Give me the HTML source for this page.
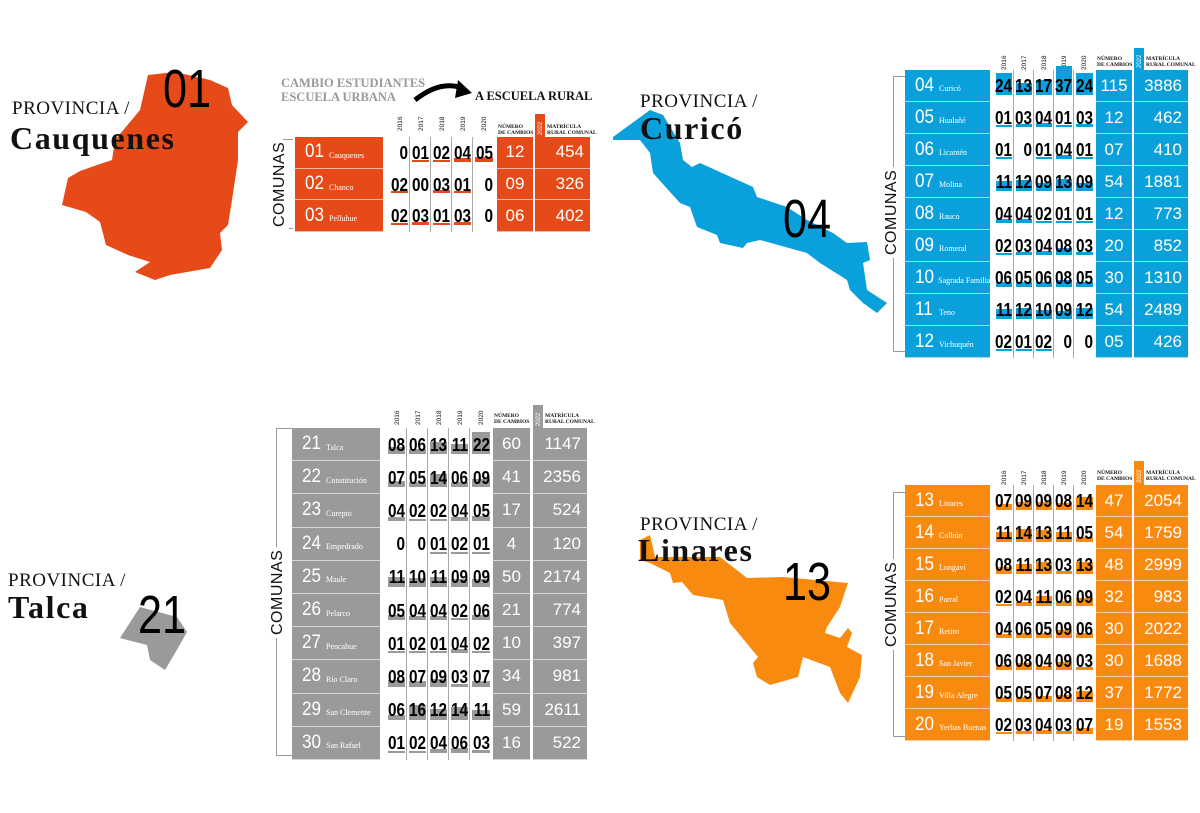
<!DOCTYPE html>
<html><head><meta charset="utf-8">
<style>
*{margin:0;padding:0;box-sizing:border-box}
body{width:1200px;height:813px;background:#fff;position:relative;overflow:hidden;font-family:"Liberation Sans",sans-serif}
.a{position:absolute}
.prov{font-family:"Liberation Serif",serif;font-size:19px;color:#111;letter-spacing:0.5px}
.pname{font-family:"Liberation Serif",serif;font-weight:bold;font-size:32px;color:#111;letter-spacing:1.6px}
.big{font-family:"Liberation Sans",sans-serif;font-size:54px;color:#000;transform:scaleX(0.8);transform-origin:left top;line-height:1}
.sec{position:absolute}
.r{display:flex;height:var(--h)}
.n{width:var(--nw);background:var(--c);color:#fff;border-bottom:1px solid rgba(255,255,255,.6);display:flex;align-items:center;padding-left:10px;margin-right:var(--g1);white-space:nowrap;overflow:hidden}
.n b{font-weight:normal;font-size:19px;transform:scaleX(.9);transform-origin:left;display:inline-block;width:22px}
.n i{font-style:normal;font-family:"Liberation Serif",serif;font-size:8px;margin-left:2px;margin-top:6px}
.y{width:var(--yw);position:relative;border-right:1px solid #aaa}
.y:nth-child(6){border-right:none;margin-right:var(--g2)}
.y s{position:absolute;right:1px;left:2px;bottom:7px;background:var(--c)}
.y span{position:absolute;right:1px;top:50%;transform:translateY(-50%) scaleX(.85);transform-origin:right;font-size:18px;font-weight:bold;color:#000;line-height:1}
.c{width:var(--cw);background:var(--c);color:#fff;border-bottom:1px solid rgba(255,255,255,.6);margin-right:var(--g3);display:flex;align-items:center;justify-content:center;font-size:17px}
.m{width:var(--mw);background:var(--c);color:#fff;border-bottom:1px solid rgba(255,255,255,.6);display:flex;align-items:center;justify-content:flex-end;padding-right:6px;font-size:17px}
.yr{position:absolute;font-size:6.5px;transform:rotate(-90deg);transform-origin:left top;color:#111}
.hd{position:absolute;font-family:"Liberation Serif",serif;font-weight:bold;font-size:5.5px;line-height:1.15;color:#111}
.tab{position:absolute;color:#fff;font-size:6px}
.tab span{position:absolute;left:1px;bottom:2px;transform:rotate(-90deg);transform-origin:left bottom;margin-left:8px}
.com{position:absolute;font-size:16px;color:#111;transform:rotate(-90deg);transform-origin:left top;letter-spacing:0.5px}
.br{position:absolute;border:1px solid #999;border-right:none}
</style></head><body>

<svg class="a" style="left:0;top:0" width="1200" height="813">
<polygon fill="#e64a19" points="148,75 175,72 210,80 228,88 232,105 248,122 238,132 238,160 232,200 228,225 220,233 222,250 210,268 170,275 155,280 135,272 150,262 128,255 106,245 100,222 86,212 62,205 68,178 80,171 100,164 112,160 115,140 140,110"/>
<polygon fill="#0aa0dc" points="613,137 650,110 663,115 680,143 683,160 692,167 700,163 753,187 757,197 787,207 807,220 833,233 847,243 867,242 870,260 863,263 867,290 887,303 877,313 863,303 850,290 847,280 820,263 807,253 760,240 747,243 743,248 720,243 717,235 697,227 690,207 680,203 653,173 650,153 640,140 613,140"/>
<polygon fill="#9a9a9a" points="120,638 140,607 177,617 187,632 178,648 165,670 150,660 147,645"/>
<polygon fill="#f98a10" points="640,540 650,535 655,557 720,557 747,578 783,577 848,583 840,607 827,627 825,633 840,638 848,628 852,633 847,647 862,655 860,677 848,703 840,693 830,667 803,657 798,677 770,685 757,677 753,663 758,657 730,623 723,600 693,595 682,582 673,583 670,573 650,563 640,560"/>
<path d="M415,100 Q440,80 462,88" stroke="#000" stroke-width="5" fill="none"/>
<polygon points="458,80 472,93 455,98" fill="#000"/>
</svg>

<!-- titles -->
<div class="a prov" style="left:12px;top:98px">PROVINCIA /</div>
<div class="a pname" style="left:10px;top:120px">Cauquenes</div>
<div class="a big" style="left:163px;top:62px">01</div>
<div class="a prov" style="left:640px;top:91px">PROVINCIA /</div>
<div class="a pname" style="left:640px;top:110px">Curicó</div>
<div class="a big" style="left:783px;top:192px">04</div>
<div class="a prov" style="left:8px;top:570px">PROVINCIA /</div>
<div class="a pname" style="left:8px;top:589px">Talca</div>
<div class="a big" style="left:138px;top:588px">21</div>
<div class="a prov" style="left:640px;top:514px">PROVINCIA /</div>
<div class="a pname" style="left:638px;top:532px">Linares</div>
<div class="a big" style="left:783px;top:555px">13</div>

<div class="a" style="left:281px;top:76px;font-family:'Liberation Serif',serif;font-weight:bold;font-size:12.5px;color:#999;line-height:14px">CAMBIO ESTUDIANTES<br>ESCUELA URBANA</div>
<div class="a" style="left:475px;top:89px;font-family:'Liberation Serif',serif;font-weight:bold;font-size:12.5px;color:#111">A ESCUELA RURAL</div>

<!-- Section A -->
<div class="yr" style="left:397px;top:131px">2016</div><div class="yr" style="left:418px;top:131px">2017</div><div class="yr" style="left:439px;top:131px">2018</div><div class="yr" style="left:460px;top:131px">2019</div><div class="yr" style="left:481px;top:131px">2020</div>
<div class="hd" style="left:498px;top:124px">NÚMERO<br>DE CAMBIOS</div>
<div class="tab" style="left:535px;top:114px;width:10px;height:23px;background:#e64a19"><span>2022</span></div>
<div class="hd" style="left:547px;top:124px">MATRÍCULA<br>RURAL COMUNAL</div>
<div class="br" style="left:283px;top:139px;width:10px;height:90px"></div>
<div class="com" style="left:271px;top:229px;background:#fff;padding:0 2px">COMUNAS</div>
<div class="sec" style="left:295px;top:137px;--c:#e64a19;--h:31.7px;--nw:88px;--g1:6px;--yw:21px;--g2:3px;--cw:36px;--g3:2px;--mw:55px">
<div class="r"><div class="n"><b>01</b><i>Cauquenes</i></div><div class="y"><span>0</span></div><div class="y"><s style="height:2px"></s><span>01</span></div><div class="y"><s style="height:2px"></s><span>02</span></div><div class="y"><s style="height:4px"></s><span>04</span></div><div class="y"><s style="height:5px"></s><span>05</span></div><div class="c">12</div><div class="m">454</div></div>
<div class="r"><div class="n"><b>02</b><i>Chanco</i></div><div class="y"><s style="height:2px"></s><span>02</span></div><div class="y"><span>00</span></div><div class="y"><s style="height:3px"></s><span>03</span></div><div class="y"><s style="height:2px"></s><span>01</span></div><div class="y"><span>0</span></div><div class="c">09</div><div class="m">326</div></div>
<div class="r"><div class="n"><b>03</b><i>Pelluhue</i></div><div class="y"><s style="height:2px"></s><span>02</span></div><div class="y"><s style="height:3px"></s><span>03</span></div><div class="y"><s style="height:2px"></s><span>01</span></div><div class="y"><s style="height:3px"></s><span>03</span></div><div class="y"><span>0</span></div><div class="c">06</div><div class="m">402</div></div>
</div>

<!-- Section B -->
<div class="yr" style="left:1001px;top:70px">2016</div><div class="yr" style="left:1021px;top:70px">2017</div><div class="yr" style="left:1041px;top:70px">2018</div><div class="yr" style="left:1061px;top:70px">2019</div><div class="yr" style="left:1081px;top:70px">2020</div>
<div class="hd" style="left:1097px;top:56px">NÚMERO<br>DE CAMBIOS</div>
<div class="tab" style="left:1134px;top:48px;width:10px;height:22px;background:#0aa0dc"><span>2022</span></div>
<div class="hd" style="left:1146px;top:56px">MATRÍCULA<br>RURAL COMUNAL</div>
<div class="br" style="left:893px;top:76px;width:12px;height:276px"></div>
<div class="com" style="left:883px;top:258px;background:#fff;padding:0 3px">COMUNAS</div>
<div class="sec" style="left:905px;top:70px;--c:#0aa0dc;--h:32px;--nw:85px;--g1:4px;--yw:20px;--g2:2px;--cw:36px;--g3:2px;--mw:54px">
<div class="r"><div class="n"><b>04</b><i>Curicó</i></div><div class="y"><s style="height:22px"></s><span>24</span></div><div class="y"><s style="height:12px"></s><span>13</span></div><div class="y"><s style="height:15px"></s><span>17</span></div><div class="y"><s style="height:29px"></s><span>37</span></div><div class="y"><s style="height:22px"></s><span>24</span></div><div class="c">115</div><div class="m">3886</div></div>
<div class="r"><div class="n"><b>05</b><i>Hualañé</i></div><div class="y"><s style="height:2px"></s><span>01</span></div><div class="y"><s style="height:3px"></s><span>03</span></div><div class="y"><s style="height:4px"></s><span>04</span></div><div class="y"><s style="height:2px"></s><span>01</span></div><div class="y"><s style="height:3px"></s><span>03</span></div><div class="c">12</div><div class="m">462</div></div>
<div class="r"><div class="n"><b>06</b><i>Licantén</i></div><div class="y"><s style="height:2px"></s><span>01</span></div><div class="y"><span>0</span></div><div class="y"><s style="height:2px"></s><span>01</span></div><div class="y"><s style="height:4px"></s><span>04</span></div><div class="y"><s style="height:2px"></s><span>01</span></div><div class="c">07</div><div class="m">410</div></div>
<div class="r"><div class="n"><b>07</b><i>Molina</i></div><div class="y"><s style="height:10px"></s><span>11</span></div><div class="y"><s style="height:11px"></s><span>12</span></div><div class="y"><s style="height:8px"></s><span>09</span></div><div class="y"><s style="height:12px"></s><span>13</span></div><div class="y"><s style="height:8px"></s><span>09</span></div><div class="c">54</div><div class="m">1881</div></div>
<div class="r"><div class="n"><b>08</b><i>Rauco</i></div><div class="y"><s style="height:4px"></s><span>04</span></div><div class="y"><s style="height:4px"></s><span>04</span></div><div class="y"><s style="height:2px"></s><span>02</span></div><div class="y"><s style="height:2px"></s><span>01</span></div><div class="y"><s style="height:2px"></s><span>01</span></div><div class="c">12</div><div class="m">773</div></div>
<div class="r"><div class="n"><b>09</b><i>Romeral</i></div><div class="y"><s style="height:2px"></s><span>02</span></div><div class="y"><s style="height:3px"></s><span>03</span></div><div class="y"><s style="height:4px"></s><span>04</span></div><div class="y"><s style="height:7px"></s><span>08</span></div><div class="y"><s style="height:3px"></s><span>03</span></div><div class="c">20</div><div class="m">852</div></div>
<div class="r"><div class="n"><b>10</b><i>Sagrada Familia</i></div><div class="y"><s style="height:5px"></s><span>06</span></div><div class="y"><s style="height:5px"></s><span>05</span></div><div class="y"><s style="height:5px"></s><span>06</span></div><div class="y"><s style="height:7px"></s><span>08</span></div><div class="y"><s style="height:5px"></s><span>05</span></div><div class="c">30</div><div class="m">1310</div></div>
<div class="r"><div class="n"><b>11</b><i>Teno</i></div><div class="y"><s style="height:10px"></s><span>11</span></div><div class="y"><s style="height:11px"></s><span>12</span></div><div class="y"><s style="height:9px"></s><span>10</span></div><div class="y"><s style="height:8px"></s><span>09</span></div><div class="y"><s style="height:11px"></s><span>12</span></div><div class="c">54</div><div class="m">2489</div></div>
<div class="r"><div class="n"><b>12</b><i>Vichuquén</i></div><div class="y"><s style="height:2px"></s><span>02</span></div><div class="y"><s style="height:2px"></s><span>01</span></div><div class="y"><s style="height:2px"></s><span>02</span></div><div class="y"><span>0</span></div><div class="y"><span>0</span></div><div class="c">05</div><div class="m">426</div></div>
</div>

<!-- Section C -->
<div class="yr" style="left:394px;top:425px">2016</div><div class="yr" style="left:415px;top:425px">2017</div><div class="yr" style="left:436px;top:425px">2018</div><div class="yr" style="left:457px;top:425px">2019</div><div class="yr" style="left:478px;top:425px">2020</div>
<div class="hd" style="left:494px;top:413px">NÚMERO<br>DE CAMBIOS</div>
<div class="tab" style="left:533px;top:405px;width:10px;height:23px;background:#9a9a9a"><span>2022</span></div>
<div class="hd" style="left:545px;top:413px">MATRÍCULA<br>RURAL COMUNAL</div>
<div class="br" style="left:276px;top:428px;width:16px;height:328px"></div>
<div class="com" style="left:269px;top:638px;background:#fff;padding:0 3px">COMUNAS</div>
<div class="sec" style="left:292px;top:428px;--c:#9a9a9a;--h:33.2px;--nw:88px;--g1:6px;--yw:21px;--g2:2px;--cw:37px;--g3:3px;--mw:54px">
<div class="r"><div class="n"><b>21</b><i>Talca</i></div><div class="y"><s style="height:7px"></s><span>08</span></div><div class="y"><s style="height:5px"></s><span>06</span></div><div class="y"><s style="height:12px"></s><span>13</span></div><div class="y"><s style="height:10px"></s><span>11</span></div><div class="y"><s style="height:22px"></s><span>22</span></div><div class="c">60</div><div class="m">1147</div></div>
<div class="r"><div class="n"><b>22</b><i>Constitución</i></div><div class="y"><s style="height:6px"></s><span>07</span></div><div class="y"><s style="height:5px"></s><span>05</span></div><div class="y"><s style="height:13px"></s><span>14</span></div><div class="y"><s style="height:5px"></s><span>06</span></div><div class="y"><s style="height:8px"></s><span>09</span></div><div class="c">41</div><div class="m">2356</div></div>
<div class="r"><div class="n"><b>23</b><i>Curepto</i></div><div class="y"><s style="height:4px"></s><span>04</span></div><div class="y"><s style="height:2px"></s><span>02</span></div><div class="y"><s style="height:2px"></s><span>02</span></div><div class="y"><s style="height:4px"></s><span>04</span></div><div class="y"><s style="height:5px"></s><span>05</span></div><div class="c">17</div><div class="m">524</div></div>
<div class="r"><div class="n"><b>24</b><i>Empedrado</i></div><div class="y"><span>0</span></div><div class="y"><span>0</span></div><div class="y"><s style="height:2px"></s><span>01</span></div><div class="y"><s style="height:2px"></s><span>02</span></div><div class="y"><s style="height:2px"></s><span>01</span></div><div class="c">4</div><div class="m">120</div></div>
<div class="r"><div class="n"><b>25</b><i>Maule</i></div><div class="y"><s style="height:10px"></s><span>11</span></div><div class="y"><s style="height:9px"></s><span>10</span></div><div class="y"><s style="height:10px"></s><span>11</span></div><div class="y"><s style="height:8px"></s><span>09</span></div><div class="y"><s style="height:8px"></s><span>09</span></div><div class="c">50</div><div class="m">2174</div></div>
<div class="r"><div class="n"><b>26</b><i>Pelarco</i></div><div class="y"><s style="height:5px"></s><span>05</span></div><div class="y"><s style="height:4px"></s><span>04</span></div><div class="y"><s style="height:4px"></s><span>04</span></div><div class="y"><s style="height:2px"></s><span>02</span></div><div class="y"><s style="height:5px"></s><span>06</span></div><div class="c">21</div><div class="m">774</div></div>
<div class="r"><div class="n"><b>27</b><i>Pencahue</i></div><div class="y"><s style="height:2px"></s><span>01</span></div><div class="y"><s style="height:2px"></s><span>02</span></div><div class="y"><s style="height:2px"></s><span>01</span></div><div class="y"><s style="height:4px"></s><span>04</span></div><div class="y"><s style="height:2px"></s><span>02</span></div><div class="c">10</div><div class="m">397</div></div>
<div class="r"><div class="n"><b>28</b><i>Río Claro</i></div><div class="y"><s style="height:7px"></s><span>08</span></div><div class="y"><s style="height:6px"></s><span>07</span></div><div class="y"><s style="height:8px"></s><span>09</span></div><div class="y"><s style="height:3px"></s><span>03</span></div><div class="y"><s style="height:6px"></s><span>07</span></div><div class="c">34</div><div class="m">981</div></div>
<div class="r"><div class="n"><b>29</b><i>San Clemente</i></div><div class="y"><s style="height:5px"></s><span>06</span></div><div class="y"><s style="height:15px"></s><span>16</span></div><div class="y"><s style="height:11px"></s><span>12</span></div><div class="y"><s style="height:13px"></s><span>14</span></div><div class="y"><s style="height:10px"></s><span>11</span></div><div class="c">59</div><div class="m">2611</div></div>
<div class="r"><div class="n"><b>30</b><i>San Rafael</i></div><div class="y"><s style="height:2px"></s><span>01</span></div><div class="y"><s style="height:2px"></s><span>02</span></div><div class="y"><s style="height:4px"></s><span>04</span></div><div class="y"><s style="height:5px"></s><span>06</span></div><div class="y"><s style="height:3px"></s><span>03</span></div><div class="c">16</div><div class="m">522</div></div>
</div>

<!-- Section D -->
<div class="yr" style="left:1001px;top:485px">2016</div><div class="yr" style="left:1021px;top:485px">2017</div><div class="yr" style="left:1041px;top:485px">2018</div><div class="yr" style="left:1061px;top:485px">2019</div><div class="yr" style="left:1081px;top:485px">2020</div>
<div class="hd" style="left:1097px;top:470px">NÚMERO<br>DE CAMBIOS</div>
<div class="tab" style="left:1134px;top:461px;width:10px;height:24px;background:#f98a10"><span>2022</span></div>
<div class="hd" style="left:1146px;top:470px">MATRÍCULA<br>RURAL COMUNAL</div>
<div class="br" style="left:893px;top:492px;width:12px;height:245px"></div>
<div class="com" style="left:883px;top:650px;background:#fff;padding:0 3px">COMUNAS</div>
<div class="sec" style="left:905px;top:485px;--c:#f98a10;--h:32px;--nw:85px;--g1:4px;--yw:20px;--g2:2px;--cw:36px;--g3:2px;--mw:54px">
<div class="r"><div class="n"><b>13</b><i>Linares</i></div><div class="y"><s style="height:6px"></s><span>07</span></div><div class="y"><s style="height:8px"></s><span>09</span></div><div class="y"><s style="height:8px"></s><span>09</span></div><div class="y"><s style="height:7px"></s><span>08</span></div><div class="y"><s style="height:13px"></s><span>14</span></div><div class="c">47</div><div class="m">2054</div></div>
<div class="r"><div class="n"><b>14</b><i>Colbún</i></div><div class="y"><s style="height:10px"></s><span>11</span></div><div class="y"><s style="height:13px"></s><span>14</span></div><div class="y"><s style="height:12px"></s><span>13</span></div><div class="y"><s style="height:10px"></s><span>11</span></div><div class="y"><s style="height:5px"></s><span>05</span></div><div class="c">54</div><div class="m">1759</div></div>
<div class="r"><div class="n"><b>15</b><i>Longaví</i></div><div class="y"><s style="height:7px"></s><span>08</span></div><div class="y"><s style="height:10px"></s><span>11</span></div><div class="y"><s style="height:12px"></s><span>13</span></div><div class="y"><s style="height:3px"></s><span>03</span></div><div class="y"><s style="height:12px"></s><span>13</span></div><div class="c">48</div><div class="m">2999</div></div>
<div class="r"><div class="n"><b>16</b><i>Parral</i></div><div class="y"><s style="height:2px"></s><span>02</span></div><div class="y"><s style="height:4px"></s><span>04</span></div><div class="y"><s style="height:10px"></s><span>11</span></div><div class="y"><s style="height:5px"></s><span>06</span></div><div class="y"><s style="height:8px"></s><span>09</span></div><div class="c">32</div><div class="m">983</div></div>
<div class="r"><div class="n"><b>17</b><i>Retiro</i></div><div class="y"><s style="height:4px"></s><span>04</span></div><div class="y"><s style="height:5px"></s><span>06</span></div><div class="y"><s style="height:5px"></s><span>05</span></div><div class="y"><s style="height:8px"></s><span>09</span></div><div class="y"><s style="height:5px"></s><span>06</span></div><div class="c">30</div><div class="m">2022</div></div>
<div class="r"><div class="n"><b>18</b><i>San Javier</i></div><div class="y"><s style="height:5px"></s><span>06</span></div><div class="y"><s style="height:7px"></s><span>08</span></div><div class="y"><s style="height:4px"></s><span>04</span></div><div class="y"><s style="height:8px"></s><span>09</span></div><div class="y"><s style="height:3px"></s><span>03</span></div><div class="c">30</div><div class="m">1688</div></div>
<div class="r"><div class="n"><b>19</b><i>Villa Alegre</i></div><div class="y"><s style="height:5px"></s><span>05</span></div><div class="y"><s style="height:5px"></s><span>05</span></div><div class="y"><s style="height:6px"></s><span>07</span></div><div class="y"><s style="height:7px"></s><span>08</span></div><div class="y"><s style="height:11px"></s><span>12</span></div><div class="c">37</div><div class="m">1772</div></div>
<div class="r"><div class="n"><b>20</b><i>Yerbas Buenas</i></div><div class="y"><s style="height:2px"></s><span>02</span></div><div class="y"><s style="height:3px"></s><span>03</span></div><div class="y"><s style="height:4px"></s><span>04</span></div><div class="y"><s style="height:3px"></s><span>03</span></div><div class="y"><s style="height:6px"></s><span>07</span></div><div class="c">19</div><div class="m">1553</div></div>
</div>

</body></html>
